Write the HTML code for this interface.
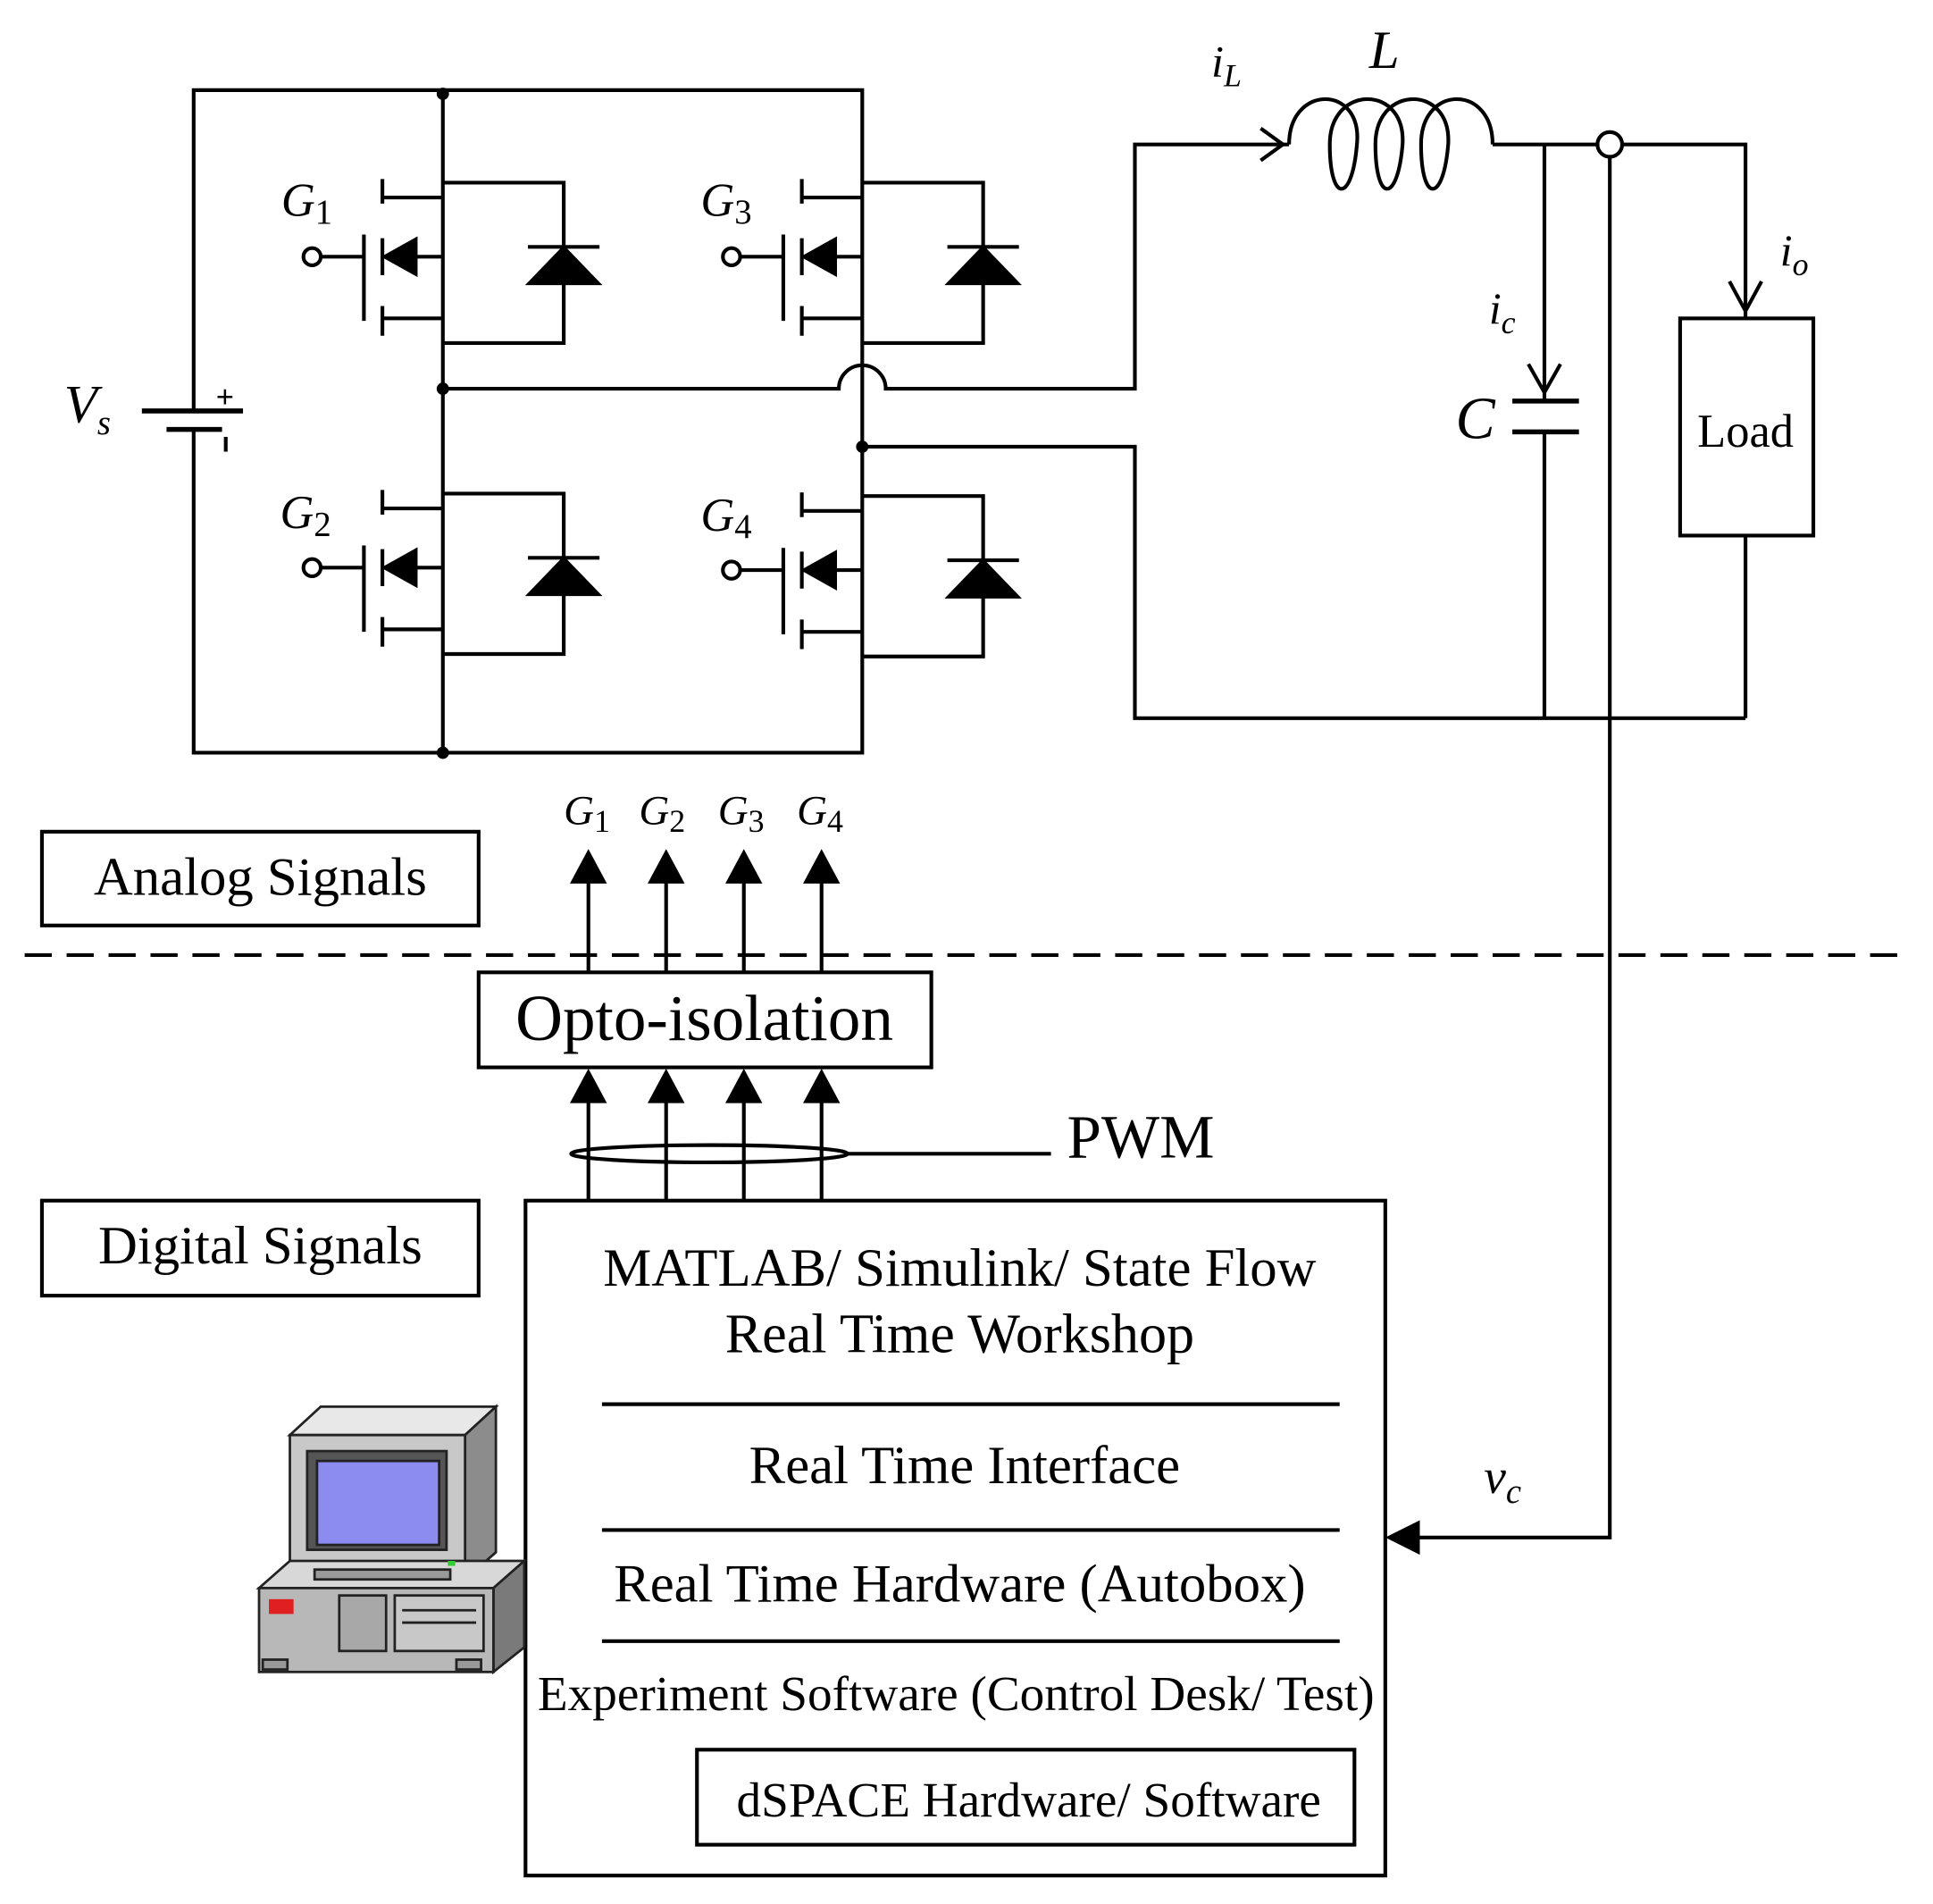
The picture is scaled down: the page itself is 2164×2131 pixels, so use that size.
<!DOCTYPE html>
<html><head><meta charset="utf-8"><style>
html,body{margin:0;padding:0;background:#fff;}
svg{display:block;}
text{font-family:"Liberation Serif",serif;fill:#000;}
.it{font-style:italic;}
</style></head><body>
<svg width="2164" height="2131" viewBox="0 0 1567 1543" xmlns="http://www.w3.org/2000/svg">
<defs>
<g id="mos" fill="none" stroke="#000" stroke-width="3">
  <path d="M0,0 H98 V130 H0"/>
  <path d="M-49,-3 V17 M-49,45 V75 M-49,100 V124"/>
  <path d="M-64,42 V112"/>
  <path d="M-99,60 H-64"/>
  <circle cx="-106" cy="60" r="7" fill="#fff"/>
  <path d="M-49,12 H0 M-49,110 H0 M-49,60 H0"/>
  <polygon points="-47,60 -22,46 -22,74" fill="#000"/>
  <polygon points="98,52 69,82 127,82" fill="#000" stroke-width="2"/>
  <path d="M69,52 H127"/>
</g>
</defs>
<g fill="none" stroke="#000" stroke-width="3">
  <path d="M157,333 V73 H699 V610 H157 V348"/>
  <path d="M359,73 V610"/>
  <path d="M115,333 H197 M135,348 H180" stroke-width="4"/>
  <path d="M359,315 H680 A19,19 0 0 1 718,315 H920 V117 H1045"/>
  <path d="M1022,104 L1040,117 L1022,130"/>
  <path d="M699,362 H920 V582 H1415"/>
  <path d="M1045,117 C1045,68 1105,68 1100,117 C1096,165 1078,165 1078,117 C1078,68 1140,68 1137,117 C1133,165 1115,165 1115,117 C1115,68 1177,68 1174,117 C1170,165 1152,165 1152,117 C1152,68 1210,68 1210,117"/>
  <path d="M1210,117 H1415 V258"/>
  <path d="M1402,228 L1415,252 L1428,228"/>
  <rect x="1362" y="258" width="108" height="176"/>
  <path d="M1415,434 V582"/>
  <path d="M1252,117 V325 M1252,350 V582"/>
  <path d="M1239,295 L1252,318 L1265,295"/>
  <path d="M1226,325 H1280 M1226,350 H1280" stroke-width="4"/>
  <path d="M1305,127 V1246 H1145"/>
  <circle cx="1305" cy="117" r="10" fill="#fff"/>
  <rect x="34" y="674" width="354" height="76"/>
  <rect x="34" y="973" width="354" height="77"/>
  <rect x="388" y="788" width="367" height="77"/>
  <rect x="426" y="973" width="697" height="547"/>
  <rect x="565" y="1418" width="533" height="77"/>
  <path d="M488,1138 H1086 M488,1240 H1086 M488,1330 H1086"/>
  <path d="M20,774 H1545" stroke-dasharray="22,12"/>
  <path d="M477,788 V712 M540,788 V712 M603,788 V712 M666,788 V712"/>
  <path d="M477,973 V890 M540,973 V890 M603,973 V890 M666,973 V890"/>
  <ellipse cx="575" cy="935" rx="112" ry="7"/>
  <path d="M687,935 H852"/>
</g>
<g fill="#000">
  <circle cx="359" cy="76" r="5"/><circle cx="359" cy="315" r="5"/>
  <circle cx="699" cy="362" r="5"/><circle cx="359" cy="610" r="5"/>
  <polygon points="477,688 462,716 492,716"/><polygon points="540,688 525,716 555,716"/>
  <polygon points="603,688 588,716 618,716"/><polygon points="666,688 651,716 681,716"/>
  <polygon points="477,866 462,894 492,894"/><polygon points="540,866 525,894 555,894"/>
  <polygon points="603,866 588,894 618,894"/><polygon points="666,866 651,894 681,894"/>
  <polygon points="1123,1246 1151,1232 1151,1260"/>
</g>
<use href="#mos" x="359" y="148"/>
<use href="#mos" x="699" y="148"/>
<use href="#mos" x="359" y="400"/>
<use href="#mos" x="699" y="402"/>
<text x="175" y="330" font-size="26" font-weight="bold" font-family="Liberation Sans">+</text>
<path d="M183,354 V366" stroke="#000" stroke-width="3"/>
<g font-size="38">
<text x="228" y="175" class="it">G<tspan font-size="28" font-style="normal" dy="6">1</tspan></text>
<text x="568" y="175" class="it">G<tspan font-size="28" font-style="normal" dy="6">3</tspan></text>
<text x="227" y="428" class="it">G<tspan font-size="28" font-style="normal" dy="6">2</tspan></text>
<text x="568" y="430" class="it">G<tspan font-size="28" font-style="normal" dy="6">4</tspan></text>
<text x="457" y="668" class="it" font-size="34">G<tspan font-size="26" font-style="normal" dy="6">1</tspan></text>
<text x="518" y="668" class="it" font-size="34">G<tspan font-size="26" font-style="normal" dy="6">2</tspan></text>
<text x="582" y="668" class="it" font-size="34">G<tspan font-size="26" font-style="normal" dy="6">3</tspan></text>
<text x="646" y="668" class="it" font-size="34">G<tspan font-size="26" font-style="normal" dy="6">4</tspan></text>
<text x="52" y="342" class="it" font-size="44">V<tspan font-size="28" dy="10">s</tspan></text>
<text x="982" y="62" class="it" font-size="36">i<tspan font-size="26" dy="8">L</tspan></text>
<text x="1110" y="55" class="it" font-size="44">L</text>
<text x="1443" y="215" class="it" font-size="36">i<tspan font-size="26" dy="8">o</tspan></text>
<text x="1207" y="262" class="it" font-size="36">i<tspan font-size="26" dy="8">c</tspan></text>
<text x="1180" y="355" class="it" font-size="48">C</text>
<text x="1203" y="1210" class="it" font-size="40">v<tspan font-size="28" dy="8">c</tspan></text>
</g>
<text x="1415" y="362" font-size="38" text-anchor="middle">Load</text>
<text x="211" y="725" font-size="44" text-anchor="middle">Analog Signals</text>
<text x="211" y="1024" font-size="44" text-anchor="middle">Digital Signals</text>
<text x="571" y="843" font-size="53" text-anchor="middle">Opto-isolation</text>
<text x="865" y="938" font-size="50">PWM</text>
<g font-size="44" text-anchor="middle">
<text x="778" y="1042">MATLAB/ Simulink/ State Flow</text>
<text x="778" y="1096" font-size="45">Real Time Workshop</text>
<text x="782" y="1202">Real Time Interface</text>
<text x="778" y="1298">Real Time Hardware (Autobox)</text>
<text x="775" y="1386" font-size="40">Experiment Software (Control Desk/ Test)</text>
<text x="834" y="1472" font-size="40">dSPACE Hardware/ Software</text>
</g>
<g stroke="#222" stroke-width="2">
  <polygon points="235,1163 260,1140 402,1140 377,1163" fill="#e8e8e8"/>
  <polygon points="377,1163 402,1140 402,1258 377,1280" fill="#8c8c8c"/>
  <rect x="235" y="1163" width="142" height="117" fill="#c8c8c8"/>
  <rect x="249" y="1176" width="113" height="80" fill="#555"/>
  <rect x="257" y="1184" width="99" height="68" fill="#8c8cf0"/>
  <polygon points="210,1287 235,1265 425,1265 400,1287" fill="#d8d8d8"/>
  <polygon points="400,1287 425,1265 425,1335 400,1355" fill="#7a7a7a"/>
  <rect x="210" y="1287" width="190" height="68" fill="#b8b8b8"/>
  <rect x="255" y="1272" width="110" height="8" fill="#999"/>
  <rect x="218" y="1296" width="20" height="12" fill="#e02020" stroke="none"/>
  <rect x="275" y="1293" width="38" height="45" fill="#a8a8a8"/>
  <rect x="320" y="1293" width="72" height="45" fill="#c8c8c8"/>
  <path d="M326,1305 H386 M326,1315 H386"/>
  <rect x="213" y="1345" width="20" height="8" fill="#999"/>
  <rect x="370" y="1345" width="20" height="8" fill="#999"/>
</g>
<rect x="363" y="1265" width="6" height="4" fill="#3c3"/>
</svg>
</body></html>
